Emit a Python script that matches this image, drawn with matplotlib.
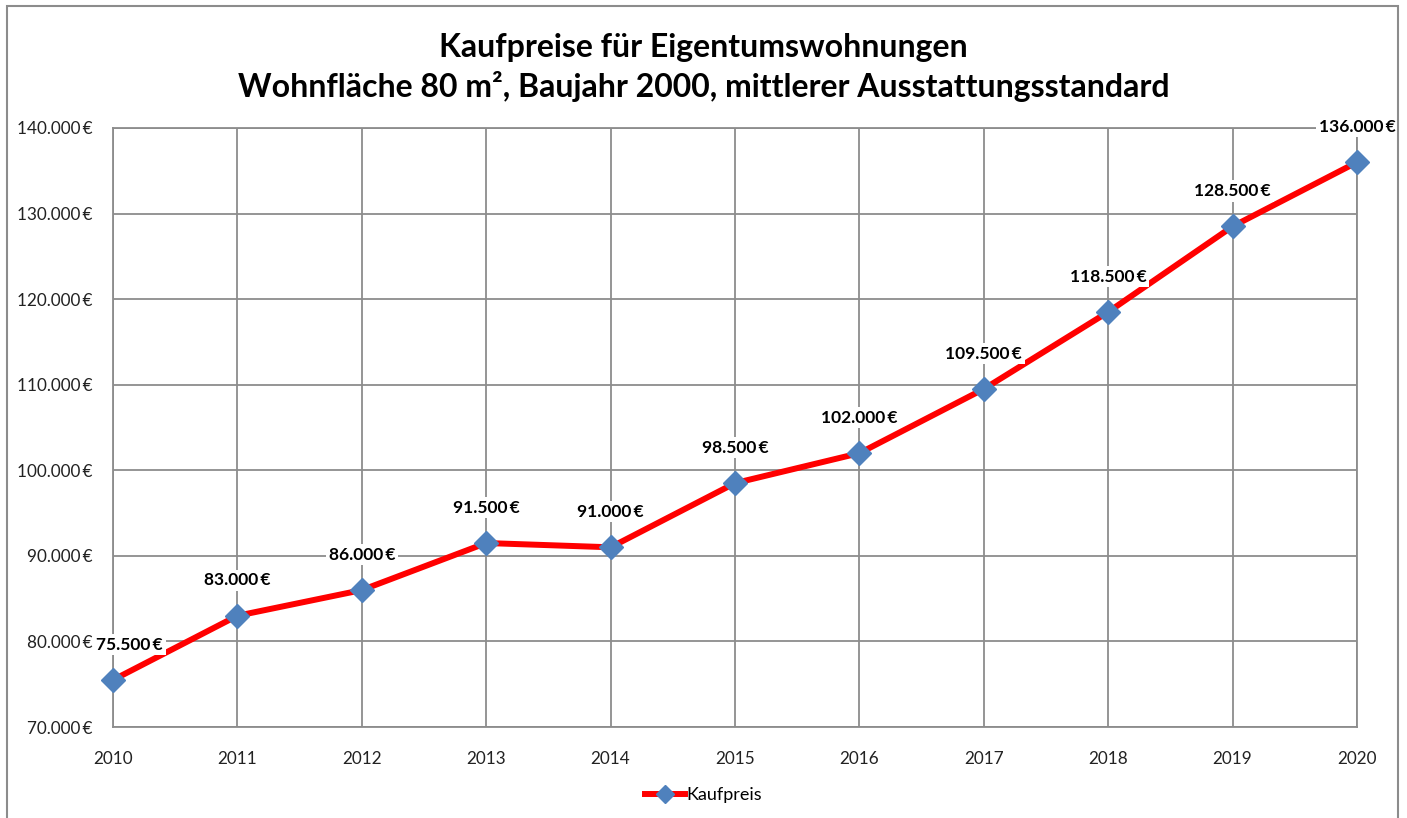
import matplotlib
matplotlib.use("Agg")
import matplotlib.pyplot as plt
from matplotlib.ticker import FuncFormatter, MultipleLocator
from matplotlib.patches import Rectangle

plt.rcParams['font.family'] = ['Lato', 'DejaVu Sans']

years = [2010, 2011, 2012, 2013, 2014, 2015, 2016, 2017, 2018, 2019, 2020]
prices = [75500, 83000, 86000, 91500, 91000, 98500, 102000, 109500, 118500, 128500, 136000]
series_name = 'Kaufpreis'
title = 'Kaufpreise für Eigentumswohnungen\nWohnfläche 80 m², Baujahr 2000, mittlerer Ausstattungsstandard'


def euro(v, pos=None):
    return '{:,.0f}'.format(v).replace(',', '.') + '\u2009€'


fig = plt.figure(figsize=(14.07, 8.18), dpi=100)
ax = fig.add_axes([113/1407, 91/818, (1357-113)/1407, (727-128)/818])

grid_c = '#8c8c8c'
ax.plot(years, prices, color='#ff0000', lw=4.3, marker='D', ms=12.5,
        mfc='#4f81bd', mec='#4f81bd', label=series_name, zorder=3, clip_on=False)

for i, (x, y) in enumerate(zip(years, prices)):
    dx = 12 if i == 0 else 0
    ax.annotate(euro(y), (x, y), xytext=(dx, 25.5), textcoords='offset points',
                ha='center', va='center', fontsize=12.5, fontweight='bold',
                bbox=dict(boxstyle='square,pad=0.15', fc='white', ec='none'),
                zorder=4, annotation_clip=False)

ax.set_xlim(2010, 2020)
ax.set_ylim(70000, 140000)
ax.set_xticks(years)
ax.yaxis.set_major_locator(MultipleLocator(10000))
ax.yaxis.set_major_formatter(FuncFormatter(euro))
ax.grid(True, color=grid_c, lw=1.3)
ax.set_axisbelow(True)
for s in ax.spines.values():
    s.set_color(grid_c)
    s.set_linewidth(1.3)
ax.tick_params(length=0, labelsize=12.3, colors='#222222')
ax.tick_params(axis='x', pad=17)
ax.tick_params(axis='y', pad=15)

fig.text(0.5, 0.918, title, ha='center', va='center', fontsize=23,
         fontweight='bold', linespacing=1.35)

fig.legend(loc='center', bbox_to_anchor=(0.5, 0.028), frameon=False,
           fontsize=13, handlelength=2.2, handletextpad=0.1, markerscale=0.7)

fig.patches.append(Rectangle((7/1407, -0.01), 1391/1407, 1.01 - 6/818,
                             transform=fig.transFigure, fill=False,
                             ec='#8c8c8c', lw=1.5))

fig.savefig('out.png', dpi=100)
